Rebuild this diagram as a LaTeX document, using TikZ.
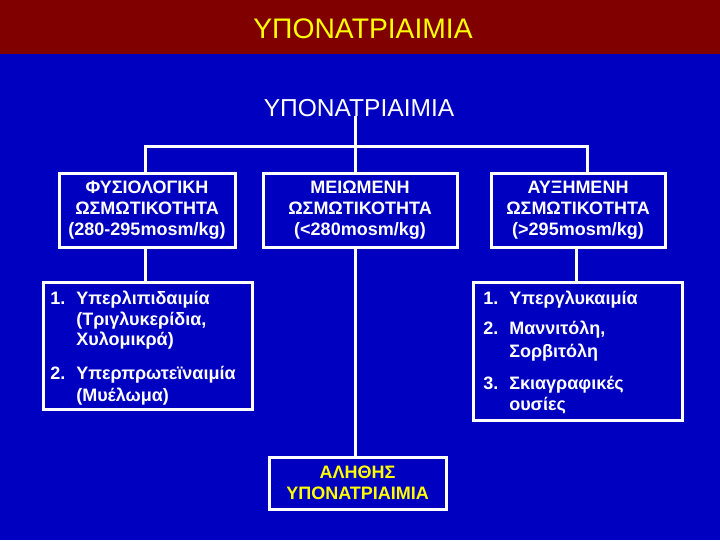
\documentclass[tikz,border=0pt]{standalone}
\usepackage{fontspec}
\setmainfont{Liberation Sans}
\definecolor{bg}{RGB}{0,0,192}
\definecolor{bar}{RGB}{128,0,0}
\definecolor{ttl}{RGB}{255,255,0}
\begin{document}
\begin{tikzpicture}[x=0.75pt,y=-0.75pt,
  box/.style={draw=white, line width=2.25pt, fill=bg, inner sep=0pt, align=center, text=white,
    font=\bfseries\fontsize{13.5}{15.75}\selectfont},
  conn/.style={draw=white, line width=2.25pt},
  lt/.style={anchor=base west, inner sep=0pt, text=white, font=\bfseries\fontsize{13.5}{16}\selectfont}]
\fill[bg] (0,0) rectangle (720,540);
\useasboundingbox (0,0) rectangle (720,540);
\fill[bar] (0,0) rectangle (720,54);
\node[font=\fontsize{21.2}{25}\selectfont, text=ttl, anchor=base, inner sep=0pt] (title) at (363,38) {ΥΠΟΝΑΤΡΙΑΙΜΙΑ};
\node[font=\fontsize{18.4}{22}\selectfont, text=white, anchor=base, inner sep=0pt] (root) at (359,116) {ΥΠΟΝΑΤΡΙΑΙΜΙΑ};
% top row boxes
\node[box, minimum width=132pt, minimum height=55.5pt] (fys) at (147,210) {ΦΥΣΙΟΛΟΓΙΚΗ\\ΩΣΜΩΤΙΚΟΤΗΤΑ\\(280-295mosm/kg)};
\node[box, minimum width=145.5pt, minimum height=55.5pt] (meio) at (360,210) {ΜΕΙΩΜΕΝΗ\\ΩΣΜΩΤΙΚΟΤΗΤΑ\\(<280mosm/kg)};
\node[box, minimum width=130.5pt, minimum height=55.5pt] (afx) at (578,210) {ΑΥΞΗΜΕΝΗ\\ΩΣΜΩΤΙΚΟΤΗΤΑ\\(>295mosm/kg)};
% lower boxes
\node[box, minimum width=156.75pt, minimum height=95.25pt] (llist) at (147.5,345.5) {};
\node[box, minimum width=156.75pt, minimum height=103.5pt] (rlist) at (577.5,351) {};
\node[box, text=ttl, minimum width=132.75pt, minimum height=39pt] (true) at (357.5,483) {ΑΛΗΘΗΣ\\ΥΠΟΝΑΤΡΙΑΙΜΙΑ};
% left list text
\node[lt] (l1n) at (50,304) {1.};
\node[lt] (l1a) at (76,304) {Υπερλιπιδαιμία};
\node[lt] (l1b) at (76,325) {(Τριγλυκερίδια,};
\node[lt] (l1c) at (76,345.5) {Χυλομικρά)};
\node[lt] (l2n) at (50,379.5) {2.};
\node[lt] (l2a) at (76,379.5) {Υπερπρωτεϊναιμία};
\node[lt] (l2b) at (76,401) {(Μυέλωμα)};
% right list text
\node[lt] (r1n) at (483,304) {1.};
\node[lt] (r1a) at (509,304) {Υπεργλυκαιμία};
\node[lt] (r2n) at (483,334.5) {2.};
\node[lt] (r2a) at (509,334.5) {Μαννιτόλη,};
\node[lt] (r2b) at (509,357.5) {Σορβιτόλη};
\node[lt] (r3n) at (483,389.5) {3.};
\node[lt] (r3a) at (509,389.5) {Σκιαγραφικές};
\node[lt] (r3b) at (509,410.5) {ουσίες};
% connectors
\coordinate (jl) at ([xshift=-1.5pt]fys.north |- 0,146);
\coordinate (jm) at ([xshift=-3.75pt]meio.north |- 0,146);
\coordinate (jr) at ([xshift=6.75pt]afx.north |- 0,146);
\draw[conn] (root.base -| jm) -- (jm);
\draw[conn, line cap=rect] (jl) -- (jr);
\draw[conn] (jl) -- (jl |- fys.north);
\draw[conn] (jm) -- (jm |- meio.north);
\draw[conn] (jr) -- (jr |- afx.north);
\draw[conn] ([xshift=-1.5pt]fys.south) -- ([xshift=-1.5pt]fys.south |- llist.north);
\draw[conn] ([xshift=-3.75pt]meio.south) -- ([xshift=-3.75pt]meio.south |- true.north);
\draw[conn] ([xshift=-1.5pt]afx.south) -- ([xshift=-1.5pt]afx.south |- rlist.north);
\end{tikzpicture}
\end{document}
